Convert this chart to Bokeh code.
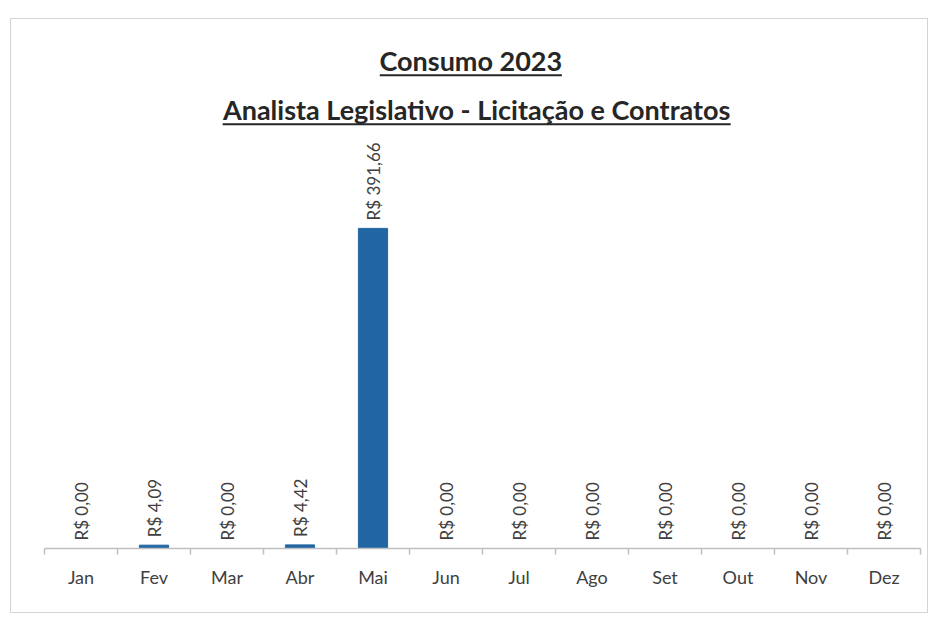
import math
from bokeh.plotting import figure
from bokeh.models import Range1d, FixedTicker, ColumnDataSource
from bokeh.core.properties import value
from bokeh.embed import file_html
from bokeh.resources import INLINE

# ---- data ----
months = ["Jan", "Fev", "Mar", "Abr", "Mai", "Jun", "Jul", "Ago", "Set", "Out", "Nov", "Dez"]
values = [0.00, 4.09, 0.00, 4.42, 391.66, 0.00, 0.00, 0.00, 0.00, 0.00, 0.00, 0.00]
title_main = "Consumo 2023"
title_sub = "Analista Legislativo - Licitação e Contratos"

labels = ["R$ " + f"{v:.2f}".replace(".", ",") for v in values]
xs = list(range(1, len(months) + 1))
src = ColumnDataSource(dict(x=xs, v=values, lab=labels))

FONT = "Lato"
BAR = "#2166a3"
TXT = "#404040"

YMAX = 635
p = figure(width=918, height=595, output_backend="svg", toolbar_location=None,
           x_range=Range1d(0.5, len(months) + 0.5), y_range=Range1d(0, YMAX),
           y_axis_location=None,
           min_border_left=33, min_border_right=9, min_border_top=10, min_border_bottom=66)
p.xgrid.visible = False
p.ygrid.visible = False
p.outline_line_color = None
p.styles = {"border": "1px solid #d4d4d4", "margin-left": "10px", "margin-top": "18px"}

ax = p.xaxis[0]
ax.ticker = FixedTicker(ticks=xs, minor_ticks=[i + 0.5 for i in range(0, len(months) + 1)])
ax.major_label_overrides = {i: m for i, m in zip(xs, months)}
ax.axis_line_color = "#bfbfbf"
ax.axis_line_width = 1.5
ax.major_tick_line_color = None
ax.major_tick_out = 0
ax.major_tick_in = 0
ax.minor_tick_line_color = "#bfbfbf"
ax.minor_tick_line_width = 1.5
ax.minor_tick_out = 6
ax.minor_tick_in = 0
ax.major_label_standoff = 11
ax.major_label_text_font = FONT
ax.major_label_text_font_size = "18px"
ax.major_label_text_color = TXT

p.vbar(x="x", top="v", width=0.4, source=src, color=BAR)

p.text(x="x", y="v", text="lab", source=src, angle=math.pi / 2,
       text_align="left", text_baseline="middle", y_offset=-8,
       text_font=value(FONT), text_font_size="17px", text_color=TXT)

# titles (underlined)
cx1, cx2 = 6.34, 6.42
p.text(x=[cx1], y=[597], text=[title_main], text_align="center", text_baseline="alphabetic",
       text_font=value(FONT), text_font_style="bold", text_font_size="27px", text_color="#262626")
p.segment(x0=[cx1 - 1.247], y0=[579], x1=[cx1 + 1.247], y1=[579], line_color="#262626", line_width=2)
p.text(x=[cx2], y=[537], text=[title_sub], text_align="center", text_baseline="alphabetic",
       text_font=value(FONT), text_font_style="bold", text_font_size="27px", text_color="#262626")
p.segment(x0=[cx2 - 3.48], y0=[519], x1=[cx2 + 3.48], y1=[519], line_color="#262626", line_width=2)

open("out.html", "w").write(file_html(p, INLINE))
